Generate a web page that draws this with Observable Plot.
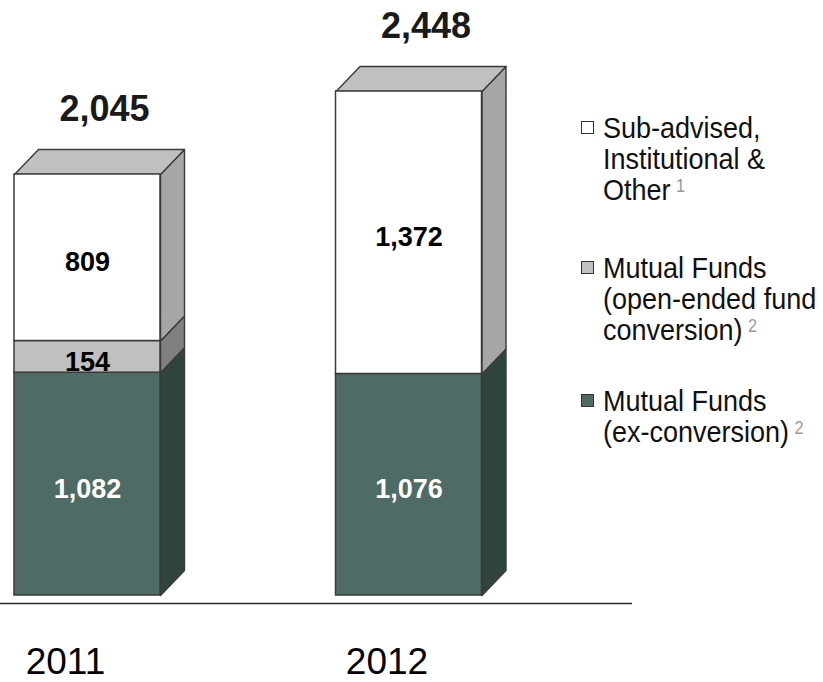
<!DOCTYPE html>
<html><head><meta charset="utf-8">
<script src="https://cdn.jsdelivr.net/npm/d3@7"></script>
<script src="https://cdn.jsdelivr.net/npm/@observablehq/plot@0.6"></script>
<style>
html,body{margin:0;padding:0;background:#fff;}
#wrap{position:relative;width:823px;height:682px;overflow:hidden;font-family:"Liberation Sans",Arial,sans-serif;}
#wrap svg{position:absolute;left:0;top:0;}
.item{position:absolute;left:581px;}
.sq{position:absolute;left:0;width:13px;height:13px;box-sizing:border-box;border:1.5px solid #333;}
.txt{position:absolute;left:22px;top:0;font-size:30px;line-height:31px;color:#111;white-space:nowrap;transform:scaleX(0.9);transform-origin:left top;}
.sup{font-size:18px;line-height:18px;color:#9a9a9a;position:relative;top:-8px;margin-left:6px;}
</style></head><body><div id="wrap"></div>
<script>
// ---- data ----
const years = ["2011", "2012"];
const seriesNames = ["Mutual Funds (ex-conversion)", "Mutual Funds (open-ended fund conversion)", "Sub-advised, Institutional & Other"];
const exConversion = [1082, 1076];
const fundConversion = [154, 0];
const subAdvised = [809, 1372];
const totals = [2045, 2448];
const legendLines = [["Mutual Funds", "(ex-conversion)"], ["Mutual Funds", "(open-ended fund", "conversion)"], ["Sub-advised,", "Institutional &", "Other"]];
const footnotes = ["2", "2", "1"];

// ---- styles ----
const frontColors = ["#4f6b65", "#c0c0c0", "#ffffff"];
const sideColors = ["#30443f", "#808080", "#a6a6a6"];
const topColor = "#c0c0c0";
const labelColors = ["#ffffff", "#000000", "#000000"];
const edge = "#3a3a3a";

// ---- geometry (pixels) ----
const W = 823, H = 682;
const xRange = [87, 408.5];
const yRange = [595, 91];
const halfWpx = 73, depthXpx = 24, depthYpx = 25;
const maxTotal = d3.max(totals);
const pxPerX = xRange[1] - xRange[0];
const pxPerY = (yRange[0] - yRange[1]) / maxTotal;
const hw = halfWpx / pxPerX, ddx = depthXpx / pxPerX, ddy = depthYpx / pxPerY;

const seriesValues = [exConversion, fundConversion, subAdvised];
const segments = [];
years.forEach((yr, i) => {
  let base = 0;
  seriesValues.forEach((vals, s) => {
    const v = vals[i];
    if (v > 0) segments.push({i, s, v, y0: base, y1: base + v});
    base += v;
  });
});
const sides = [];
segments.forEach((d, k) => {
  const xr = d.i + hw;
  [[xr, d.y0], [xr + ddx, d.y0 + ddy], [xr + ddx, d.y1 + ddy], [xr, d.y1]]
    .forEach(([x, y]) => sides.push({id: "s" + k, x, y, color: sideColors[d.s]}));
});
const tops = [];
years.forEach((yr, i) => {
  const t = totals[i];
  [[i - hw, t], [i - hw + ddx, t + ddy], [i + hw + ddx, t + ddy], [i + hw, t]]
    .forEach(([x, y]) => tops.push({id: "t" + i, x, y, color: topColor}));
});
const fmt = d3.format(",");

const chart = Plot.plot({
  width: W, height: H,
  marginLeft: 0, marginTop: 0, marginBottom: 0, marginRight: W - 632,
  style: {fontFamily: "'Liberation Sans', Arial, sans-serif", background: "transparent", overflow: "visible"},
  x: {type: "linear", domain: [0, 1], range: xRange, axis: null},
  y: {type: "linear", domain: [0, maxTotal], range: yRange, axis: null},
  color: {type: "identity"},
  marks: [
    Plot.ruleY([0], {dy: 8, stroke: "#2a2a2a", strokeWidth: 1.6}),
    Plot.line(sides, {x: "x", y: "y", z: "id", fill: "color", stroke: edge, strokeWidth: 1.4, curve: "linear-closed", strokeLinejoin: "round"}),
    Plot.line(tops, {x: "x", y: "y", z: "id", fill: "color", stroke: edge, strokeWidth: 1.4, curve: "linear-closed", strokeLinejoin: "round"}),
    Plot.rect(segments, {x1: d => d.i - hw, x2: d => d.i + hw, y1: "y0", y2: "y1", fill: d => frontColors[d.s], stroke: edge, strokeWidth: 1.5}),
    Plot.text(segments, {x: "i", y: d => (d.y0 + d.y1) / 2, text: d => fmt(d.v), dy: 5, fontSize: 27, fontWeight: "bold", fill: d => labelColors[d.s]}),
    Plot.text(totals, {x: (d, i) => i + ddx / 2, y: d => d, text: d => fmt(d), dx: 5, dy: -65, fontSize: 36, fontWeight: "bold", fill: "#1a1a1a"}),
    Plot.text(years, {x: (d, i) => i, y: 0, text: d => d, dx: -22, dy: 67, fontSize: 37, fill: "#000", ariaLabel: "year-labels"})
  ]
});
const wrap = document.getElementById("wrap");
wrap.appendChild(chart);
d3.select(chart).selectAll('g[aria-label="year-labels"] text').each(function() {
  const len = this.getComputedTextLength();
  d3.select(this).attr("textLength", len * 0.9).attr("lengthAdjust", "spacingAndGlyphs");
});

// ---- legend (top to bottom: series 2, 1, 0) ----
const legendTops = [385, 252, 112];
[2, 1, 0].forEach(s => {
  const item = document.createElement("div");
  item.className = "item";
  item.style.top = legendTops[s] + "px";
  item.setAttribute("title", seriesNames[s]);
  const sq = document.createElement("div");
  sq.className = "sq";
  sq.style.top = "9px";
  sq.style.background = frontColors[s];
  item.appendChild(sq);
  const txt = document.createElement("div");
  txt.className = "txt";
  legendLines[s].forEach((line, j) => {
    const ln = document.createElement("div");
    ln.textContent = line;
    if (j === legendLines[s].length - 1) {
      const sup = document.createElement("span");
      sup.className = "sup";
      sup.textContent = footnotes[s];
      ln.appendChild(sup);
    }
    txt.appendChild(ln);
  });
  item.appendChild(txt);
  wrap.appendChild(item);
});
</script></body></html>
